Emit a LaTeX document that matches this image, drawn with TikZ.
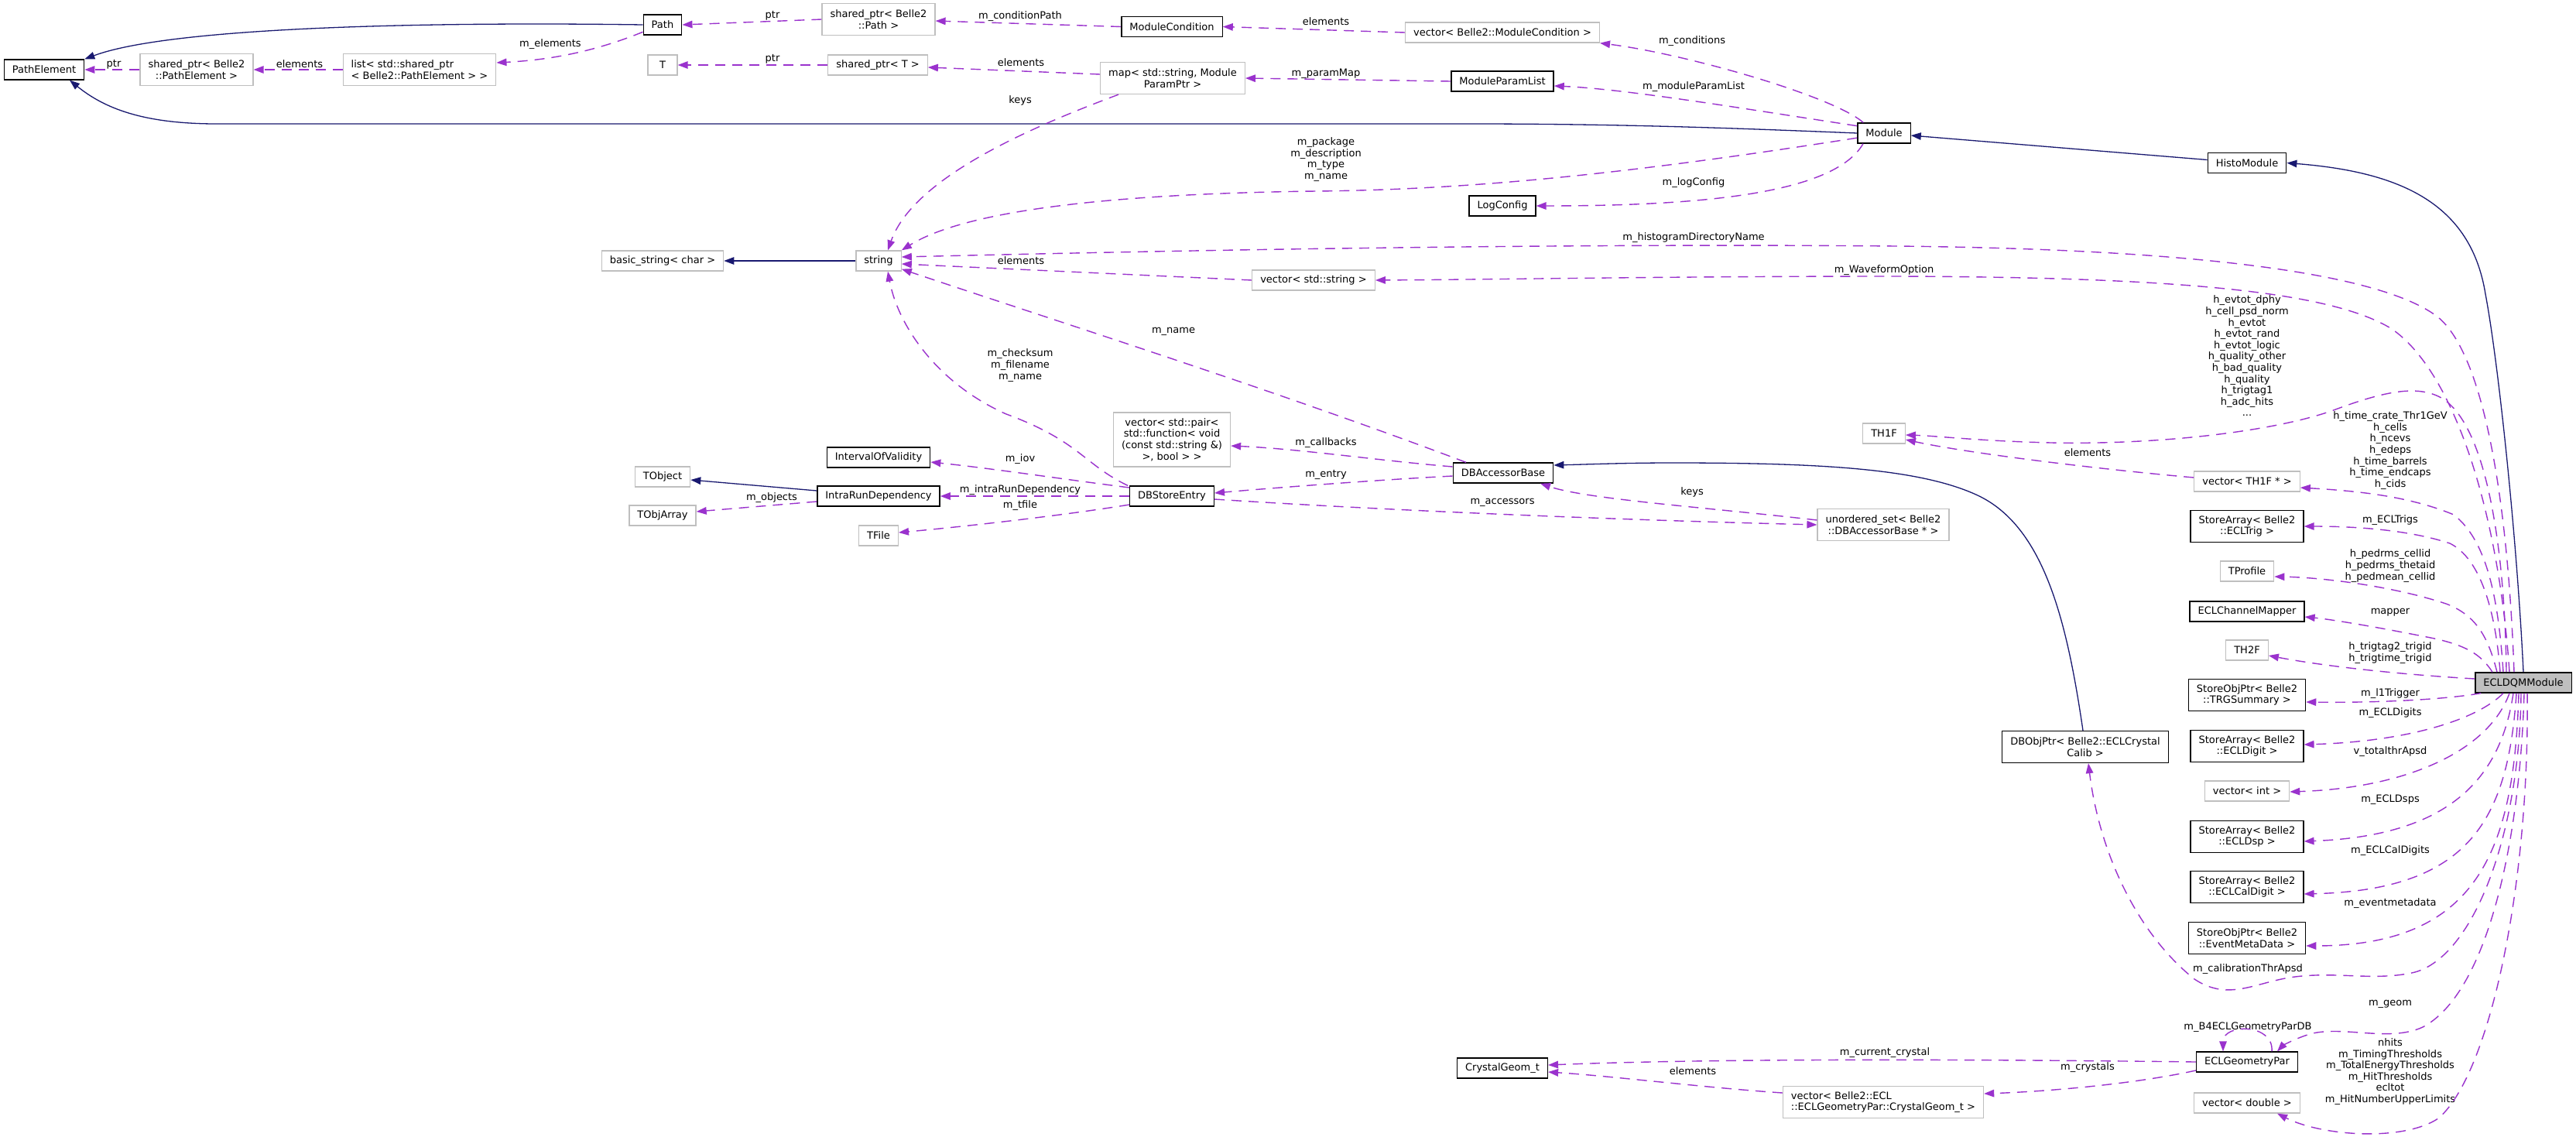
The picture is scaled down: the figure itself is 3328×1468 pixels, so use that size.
\documentclass[tikz,border=0pt]{standalone}
\usepackage{fontspec}
\setmainfont{DejaVu Sans}
\usetikzlibrary{arrows.meta}
\definecolor{navyc}{HTML}{191970}
\definecolor{purp}{HTML}{9A32CD}
\definecolor{lgrey}{HTML}{BFBFBF}
\definecolor{fillg}{HTML}{BFBFBF}
\newcommand{\dfont}{\fontsize{13pt}{14.6pt}\selectfont}
\begin{document}
\begin{tikzpicture}[x=1pt,y=-1pt,
  cls/.style={draw=black, line width=1.3pt, rectangle, fill=white, inner xsep=10.5pt, inner ysep=3pt, minimum height=26pt, align=center, font=\dfont},
  ext/.style={cls, draw=lgrey},
  two/.style={minimum height=41pt},
  four/.style={minimum height=70pt},
  lbl/.style={inner sep=0pt, align=center, font=\dfont},
  inh/.style={draw=navyc, line width=1.3pt, -{Triangle[length=13pt,width=9.5pt]}},
  mem/.style={draw=purp, line width=1.4pt, dash pattern=on 13pt off 9pt, -{Triangle[length=13pt,width=9.5pt]}}
]
\fill[white] (0,0) rectangle (3328,1468);
\useasboundingbox (0,0) rectangle (3328,1468);

% ---------------- nodes ----------------
\node[cls] (PathElement) at (57,90) {PathElement};
\node[ext,two] (spPE) at (254,90) {shared\_ptr< Belle2\\::PathElement >};
\node[ext,two,align=left] (listPE) at (542,90) {list< std::shared\_ptr\\< Belle2::PathElement > >};
\node[cls] (Path) at (856,32) {Path};
\node[ext,two] (spPath) at (1135,25) {shared\_ptr< Belle2\\::Path >};
\node[ext,minimum width=38pt] (T) at (856,84) {T};
\node[ext] (spT) at (1134,84) {shared\_ptr< T >};
\node[cls] (ModCond) at (1514,34.5) {ModuleCondition};
\node[ext] (vecModCond) at (1941,42) {vector< Belle2::ModuleCondition >};
\node[ext,two] (map) at (1515,101) {map< std::string, Module\\ParamPtr >};
\node[cls] (ModParamList) at (1941,105) {ModuleParamList};
\node[cls] (Module) at (2434,172) {Module};
\node[cls] (HistoModule) at (2903,210.5) {HistoModule};
\node[cls] (LogConfig) at (1941,266) {LogConfig};
\node[ext] (basicstring) at (856,337) {basic\_string< char >};
\node[ext] (string) at (1135,337) {string};
\node[ext] (vecString) at (1697,362) {vector< std::string >};
\node[cls] (IoV) at (1135,591) {IntervalOfValidity};
\node[cls] (IntraRun) at (1135,641) {IntraRunDependency};
\node[ext] (TFile) at (1135,692) {TFile};
\node[ext] (TObject) at (856,616) {TObject};
\node[ext] (TObjArray) at (856,666) {TObjArray};
\node[cls] (DBStoreEntry) at (1514,641) {DBStoreEntry};
\node[ext,four] (vecPair) at (1514,568) {vector< std::pair<\\std::function< void\\(const std::string \&)\\>, bool > >};
\node[cls] (DBAccessorBase) at (1942,611) {DBAccessorBase};
\node[ext,two] (unorderedSet) at (2433,678) {unordered\_set< Belle2\\::DBAccessorBase * >};
\node[ext] (TH1F) at (2434,560) {TH1F};
\node[ext] (vecTH1F) at (2903,622) {vector< TH1F * >};
\node[cls,two] (ECLTrig) at (2903,680) {StoreArray< Belle2\\::ECLTrig >};
\node[ext] (TProfile) at (2903,738) {TProfile};
\node[cls] (ECLChannelMapper) at (2903,790) {ECLChannelMapper};
\node[ext] (TH2F) at (2903,840) {TH2F};
\node[cls,two] (TRGSummary) at (2903,898) {StoreObjPtr< Belle2\\::TRGSummary >};
\node[cls,two] (ECLDigit) at (2903,964) {StoreArray< Belle2\\::ECLDigit >};
\node[ext] (vecInt) at (2903,1022) {vector< int >};
\node[cls,two] (ECLDsp) at (2903,1081) {StoreArray< Belle2\\::ECLDsp >};
\node[cls,two] (ECLCalDigit) at (2903,1146) {StoreArray< Belle2\\::ECLCalDigit >};
\node[cls,two] (EventMetaData) at (2903,1212) {StoreObjPtr< Belle2\\::EventMetaData >};
\node[cls,two] (DBObjPtr) at (2694,965) {DBObjPtr< Belle2::ECLCrystal\\Calib >};
\node[cls] (ECLGeomPar) at (2903,1372) {ECLGeometryPar};
\node[cls] (CrystalGeom) at (1941,1380) {CrystalGeom\_t};
\node[ext,two,align=left] (vecCrystal) at (2433,1424) {vector< Belle2::ECL\\::ECLGeometryPar::CrystalGeom\_t >};
\node[ext] (vecDouble) at (2903,1425) {vector< double >};
\node[cls,fill=fillg] (ECLDQM) at (3260,882) {ECLDQMModule};

% ---------------- labels ----------------
\node[lbl] (lb1) at (147,83) {ptr};
\node[lbl] (lb2) at (387,83) {elements};
\node[lbl] (lb3) at (711,57) {m\_elements};
\node[lbl] (lb4) at (998,20) {ptr};
\node[lbl] (lb5) at (998,76) {ptr};
\node[lbl] (lb6) at (1318,21) {m\_conditionPath};
\node[lbl] (lb7) at (1713,28) {elements};
\node[lbl] (lb8) at (1319,81) {elements};
\node[lbl] (lb9) at (1713,95) {m\_paramMap};
\node[lbl] (lb10) at (1318,130) {keys};
\node[lbl] (lb11) at (2186,53) {m\_conditions};
\node[lbl] (lb12) at (2188,112) {m\_moduleParamList};
\node[lbl] (lb13) at (1713,206) {m\_package\\m\_description\\m\_type\\m\_name};
\node[lbl] (lb14) at (2188,236) {m\_logConfig};
\node[lbl] (lb15) at (2188,307) {m\_histogramDirectoryName};
\node[lbl] (lb16) at (1319,337) {elements};
\node[lbl] (lb17) at (2434,349) {m\_WaveformOption};
\node[lbl] (lb18) at (1516,428) {m\_name};
\node[lbl] (lb19) at (1318,472) {m\_checksum\\m\_filename\\m\_name};
\node[lbl] (lb20) at (1318,593) {m\_iov};
\node[lbl] (lb21) at (1318,633) {m\_intraRunDependency};
\node[lbl] (lb22) at (1318,653) {m\_tfile};
\node[lbl] (lb23) at (997,643) {m\_objects};
\node[lbl] (lb24) at (1713,572) {m\_callbacks};
\node[lbl] (lb25) at (1713,613) {m\_entry};
\node[lbl] (lb26) at (1941,649) {m\_accessors};
\node[lbl] (lb27) at (2186,636) {keys};
\node[lbl] (lb28) at (2903,460) {h\_evtot\_dphy\\h\_cell\_psd\_norm\\h\_evtot\\h\_evtot\_rand\\h\_evtot\_logic\\h\_quality\_other\\h\_bad\_quality\\h\_quality\\h\_trigtag1\\h\_adc\_hits\\...};
\node[lbl] (lb29) at (2697,585) {elements};
\node[lbl] (lb30) at (3088,582) {h\_time\_crate\_Thr1GeV\\h\_cells\\h\_ncevs\\h\_edeps\\h\_time\_barrels\\h\_time\_endcaps\\h\_cids};
\node[lbl] (lb31) at (3088,672) {m\_ECLTrigs};
\node[lbl] (lb32) at (3088,731) {h\_pedrms\_cellid\\h\_pedrms\_thetaid\\h\_pedmean\_cellid};
\node[lbl] (lb33) at (3088,791) {mapper};
\node[lbl] (lb34) at (3088,843.5) {h\_trigtag2\_trigid\\h\_trigtime\_trigid};
\node[lbl] (lb35) at (3088,896) {m\_l1Trigger};
\node[lbl] (lb36) at (3088,921) {m\_ECLDigits};
\node[lbl] (lb37) at (3088,971) {v\_totalthrApsd};
\node[lbl] (lb38) at (3088,1033) {m\_ECLDsps};
\node[lbl] (lb39) at (3088,1099) {m\_ECLCalDigits};
\node[lbl] (lb40) at (3088,1167) {m\_eventmetadata};
\node[lbl] (lb41) at (2904,1252) {m\_calibrationThrApsd};
\node[lbl] (lb42) at (3088,1297) {m\_geom};
\node[lbl] (lb43) at (2904,1327) {m\_B4ECLGeometryParDB};
\node[lbl] (lb44) at (2435,1360) {m\_current\_crystal};
\node[lbl] (lb45) at (2697,1379) {m\_crystals};
\node[lbl] (lb46) at (2187,1384) {elements};
\node[lbl] (lb47) at (3088,1384.5) {nhits\\m\_TimingThresholds\\m\_TotalEnergyThresholds\\m\_HitThresholds\\ecltot\\m\_HitNumberUpperLimits};

% ---------------- inheritance ----------------
\draw[inh] (Path.west) .. controls (550,28) and (220,35) .. (PathElement.north east);
\draw[inh] (Module.west) .. controls (2250,166) and (2100,160) .. (1900,160) -- (280,160) .. controls (185,160) and (135,140) .. ([xshift=33pt]PathElement.south);
\draw[inh] ([yshift=4pt]HistoModule.west) -- ([yshift=-3pt]Module.east);
\draw[inh] (ECLDQM.north) .. controls (3252,700) and (3228,470) .. (3211,380) .. controls (3192,262) and (3100,222) .. (HistoModule.east);
\draw[inh] (string.west) -- (basicstring.east);
\draw[inh] ([yshift=7pt]IntraRun.west) -- ([yshift=-4pt]TObject.east);
\draw[inh] ([xshift=-3pt]DBObjPtr.north) .. controls (2670,800) and (2640,680) .. (2555,640) .. controls (2480,605) and (2350,598) .. (2160,598) .. controls (2100,598) and (2050,600) .. ([yshift=10pt]DBAccessorBase.east);

% ---------------- members ----------------
\draw[mem] (Path.200) .. controls (760,70) and (700,78) .. ([yshift=9pt]listPE.east);
\draw[mem] (listPE.west) -- (spPE.east);
\draw[mem] (spPE.west) -- (PathElement.east);
\draw[mem] (spPath.west) -- (Path.east);
\draw[mem] (ModCond.west) -- ([yshift=-2pt]spPath.east);
\draw[mem] (vecModCond.west) -- (ModCond.east);
\draw[mem] ([xshift=8pt]Module.north west) .. controls (2370,125) and (2180,70) .. (vecModCond.south east);
\draw[mem] (Module.165) .. controls (2250,140) and (2100,115) .. ([yshift=-6pt]ModParamList.east);
\draw[mem] (ModParamList.west) -- (map.east);
\draw[mem] ([yshift=5pt]map.west) -- ([yshift=-3pt]spT.east);
\draw[mem] (spT.west) -- (T.east);
\draw[mem] ([xshift=-70pt]map.south) .. controls (1330,165) and (1180,230) .. ([xshift=12pt]string.north);
\draw[mem] (Module.190) .. controls (2100,225) and (1900,245) .. (1700,247) .. controls (1450,250) and (1250,270) .. (string.north east);
\draw[mem] ([xshift=-27pt]Module.south) .. controls (2370,250) and (2200,266) .. (LogConfig.east);
\draw[mem] ([xshift=-12pt]ECLDQM.north) .. controls (3240,650) and (3210,460) .. (3150,410) .. controls (3080,355) and (2850,322) .. (2450,318) .. controls (2000,314) and (1500,324) .. ([yshift=5pt]string.east);
\draw[mem] ([xshift=-18pt]ECLDQM.north) .. controls (3228,660) and (3170,480) .. (3090,425) .. controls (3010,375) and (2800,358) .. (2450,357) .. controls (2150,357) and (1950,361) .. (vecString.east);
\draw[mem] (vecString.west) -- ([yshift=-4pt]string.east);
\draw[mem] ([xshift=-48pt]DBAccessorBase.north) .. controls (1650,505) and (1350,410) .. ([yshift=3pt]string.south east);
\draw[mem] ([xshift=-57pt]DBStoreEntry.north) .. controls (1400,600) and (1395,570) .. (1300,535) .. controls (1210,495) and (1160,420) .. ([xshift=12pt]string.south);
\draw[mem] ([yshift=8pt]DBAccessorBase.west) .. controls (1780,595) and (1680,580) .. ([yshift=-8pt]vecPair.east);
\draw[mem] ([yshift=-4pt]DBAccessorBase.west) .. controls (1780,620) and (1650,630) .. ([yshift=4pt]DBStoreEntry.east);
\draw[mem] ([yshift=-4pt]DBStoreEntry.east) .. controls (1800,660) and (2100,672) .. (unorderedSet.west);
\draw[mem] ([yshift=6pt]unorderedSet.west) .. controls (2200,655) and (2050,645) .. ([xshift=48pt]DBAccessorBase.south);
\draw[mem] ([yshift=11pt]DBStoreEntry.west) .. controls (1380,620) and (1280,605) .. ([yshift=-6pt]IoV.east);
\draw[mem] (DBStoreEntry.west) -- (IntraRun.east);
\draw[mem] ([yshift=-11pt]DBStoreEntry.west) .. controls (1380,665) and (1250,680) .. ([yshift=4pt]TFile.east);
\draw[mem] ([yshift=-7pt]IntraRun.west) -- ([yshift=5pt]TObjArray.east);
\draw[mem] ([xshift=-22pt]ECLDQM.north) .. controls (3236,700) and (3210,540) .. (3150,512) .. controls (3120,498) and (3080,506) .. (3020,528) .. controls (2950,555) and (2800,575) .. (2650,572) .. controls (2560,570) and (2500,563) .. ([yshift=-2pt]TH1F.east);
\draw[mem] ([yshift=5pt]vecTH1F.west) .. controls (2700,605) and (2540,585) .. ([yshift=-8pt]TH1F.east);
\draw[mem] ([xshift=-26pt]ECLDQM.north) .. controls (3228,780) and (3215,700) .. (3170,665) .. controls (3110,640) and (3040,634) .. ([yshift=-8pt]vecTH1F.east);
\draw[mem] ([xshift=-30pt]ECLDQM.north) .. controls (3224,790) and (3205,722) .. (3165,702) .. controls (3110,684) and (3040,680) .. (ECLTrig.east);
\draw[mem] ([xshift=-34pt]ECLDQM.north) .. controls (3215,825) and (3200,795) .. (3160,780) .. controls (3090,757) and (3000,746) .. ([yshift=-7pt]TProfile.east);
\draw[mem] ([xshift=-40pt]ECLDQM.north) .. controls (3205,845) and (3185,832) .. (3130,822) .. controls (3070,810) and (3010,800) .. ([yshift=-7pt]ECLChannelMapper.east);
\draw[mem] ([yshift=5pt]ECLDQM.west) .. controls (3110,872) and (3010,862) .. ([yshift=-7pt]TH2F.east);
\draw[mem] ([xshift=8pt]ECLDQM.south west) .. controls (3150,905) and (3060,908) .. ([yshift=-9pt]TRGSummary.east);
\draw[mem] ([xshift=-26pt]ECLDQM.south) .. controls (3200,930) and (3110,958) .. ([yshift=2pt]ECLDigit.east);
\draw[mem] ([xshift=-18pt]ECLDQM.south) .. controls (3215,970) and (3110,1018) .. ([yshift=-1pt]vecInt.east);
\draw[mem] ([xshift=-13pt]ECLDQM.south) .. controls (3230,1010) and (3160,1080) .. ([yshift=-6pt]ECLDsp.east);
\draw[mem] ([xshift=-9pt]ECLDQM.south) .. controls (3240,1060) and (3190,1150) .. ([yshift=-9pt]ECLCalDigit.east);
\draw[mem] ([xshift=-6pt]ECLDQM.south) .. controls (3248,1100) and (3200,1222) .. ([yshift=-10pt]EventMetaData.east);
\draw[mem] ([xshift=-3pt]ECLDQM.south) .. controls (3255,1080) and (3195,1235) .. (3120,1256) .. controls (3070,1268) and (3020,1255) .. (2965,1262) .. controls (2915,1268) and (2880,1295) .. (2835,1265) .. controls (2760,1205) and (2712,1100) .. ([xshift=4pt]DBObjPtr.south);
\draw[mem] ([xshift=1pt]ECLDQM.south) .. controls (3255,1100) and (3210,1285) .. (3130,1327) .. controls (3085,1348) and (3020,1322) .. (2978,1338) .. controls (2958,1345) and (2948,1352) .. ([xshift=39pt]ECLGeomPar.north);
\draw[mem] ([xshift=5pt]ECLDQM.south) .. controls (3268,1150) and (3215,1390) .. (3150,1445) .. controls (3105,1475) and (3000,1468) .. ([xshift=39pt]vecDouble.south);
\draw[mem] ([xshift=32pt]ECLGeomPar.north) .. controls (2938,1322) and (2872,1322) .. ([xshift=-31pt]ECLGeomPar.north);
\draw[mem] (ECLGeomPar.west) .. controls (2500,1368) and (2200,1368) .. ([yshift=4pt]CrystalGeom.east);
\draw[mem] ([yshift=-11pt]ECLGeomPar.west) .. controls (2760,1400) and (2650,1410) .. ([yshift=11pt]vecCrystal.east);
\draw[mem] ([yshift=12pt]vecCrystal.west) .. controls (2200,1405) and (2080,1390) .. ([yshift=-5pt]CrystalGeom.east);
\end{tikzpicture}
\end{document}
